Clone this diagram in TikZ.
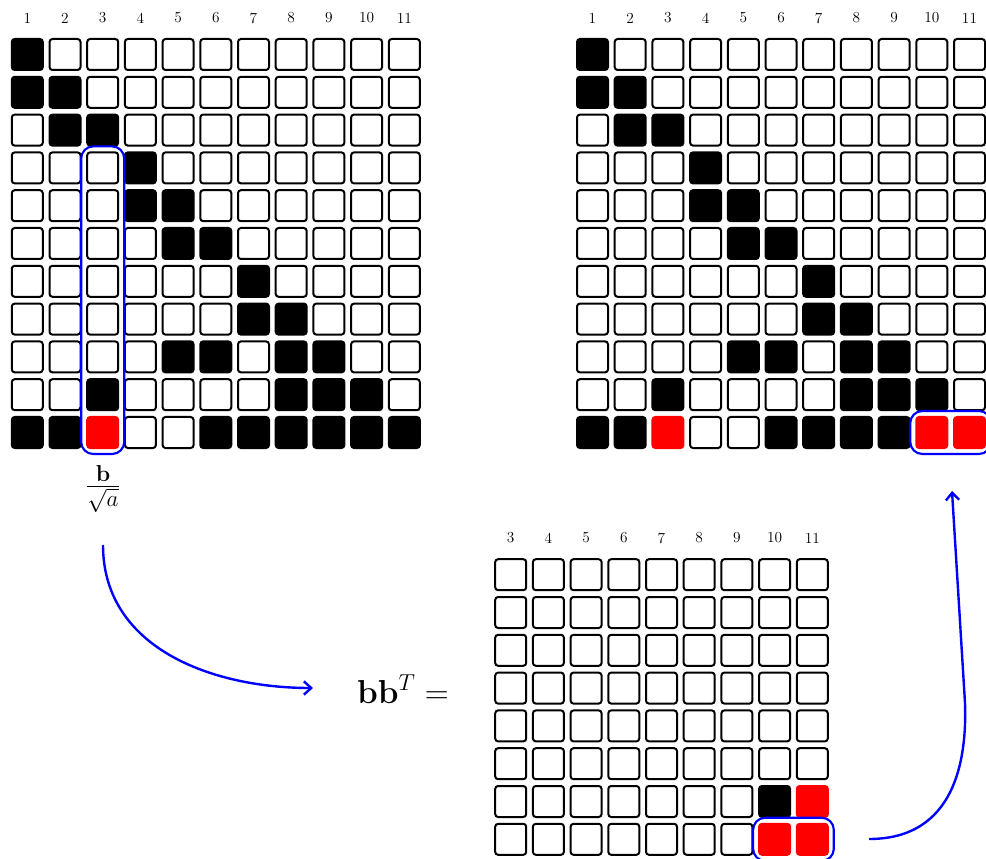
\documentclass[tikz,border=0pt]{standalone}
\usetikzlibrary{arrows.meta,fit}
\begin{document}
\begin{tikzpicture}[x=0.75pt,y=-0.75pt,
  cell/.style={rectangle, minimum size=23.25pt, inner sep=0pt, rounded corners=2.2pt, line width=1.5pt},
  cellw/.style={cell, draw=black, fill=white},
  cellk/.style={cell, draw=black, fill=black},
  cellr/.style={cell, draw=red, fill=red},
  collabel/.style={font=\fontsize{11.5}{13}\selectfont, inner sep=0pt},
  hilite/.style={draw=blue, line width=1.6pt, rounded corners=9pt, inner sep=3.75pt},
  flow/.style={draw=blue, line width=1.8pt, -{Straight Barb[length=5.5pt,width=10pt]}}]
\useasboundingbox (0,0) rectangle (986,859);
% left grid
\foreach \row [count=\r] in {
  {k,w,w,w,w,w,w,w,w,w,w},
  {k,k,w,w,w,w,w,w,w,w,w},
  {w,k,k,w,w,w,w,w,w,w,w},
  {w,w,w,k,w,w,w,w,w,w,w},
  {w,w,w,k,k,w,w,w,w,w,w},
  {w,w,w,w,k,k,w,w,w,w,w},
  {w,w,w,w,w,w,k,w,w,w,w},
  {w,w,w,w,w,w,k,k,w,w,w},
  {w,w,w,w,k,k,w,k,k,w,w},
  {w,w,k,w,w,w,w,k,k,k,w},
  {k,k,r,w,w,k,k,k,k,k,k}}{
  \foreach \v [count=\c] in \row {
    \node[cell\v] (L-\r-\c) at ({27.3+(\c-1)*37.7},{54.5+(\r-1)*37.8}) {};
  }
}
% right grid
\foreach \row [count=\r] in {
  {k,w,w,w,w,w,w,w,w,w,w},
  {k,k,w,w,w,w,w,w,w,w,w},
  {w,k,k,w,w,w,w,w,w,w,w},
  {w,w,w,k,w,w,w,w,w,w,w},
  {w,w,w,k,k,w,w,w,w,w,w},
  {w,w,w,w,k,k,w,w,w,w,w},
  {w,w,w,w,w,w,k,w,w,w,w},
  {w,w,w,w,w,w,k,k,w,w,w},
  {w,w,w,w,k,k,w,k,k,w,w},
  {w,w,k,w,w,w,w,k,k,k,w},
  {k,k,r,w,w,k,k,k,k,r,r}}{
  \foreach \v [count=\c] in \row {
    \node[cell\v] (R-\r-\c) at ({592.5+(\c-1)*37.7},{54.5+(\r-1)*37.8}) {};
  }
}
% bottom grid (columns 3..11)
\foreach \row [count=\r] in {
  {w,w,w,w,w,w,w,w,w},
  {w,w,w,w,w,w,w,w,w},
  {w,w,w,w,w,w,w,w,w},
  {w,w,w,w,w,w,w,w,w},
  {w,w,w,w,w,w,w,w,w},
  {w,w,w,w,w,w,w,w,w},
  {w,w,w,w,w,w,w,k,r},
  {w,w,w,w,w,w,w,r,r}}{
  \foreach \v [count=\i] in \row {
    \pgfmathtruncatemacro{\c}{\i+2}
    \node[cell\v] (B-\r-\c) at ({510.7+(\i-1)*37.7},{574.7+(\r-1)*37.8}) {};
  }
}
% column labels
\foreach \c in {1,...,11} {
  \node[collabel] (LL-\c) at ({27.3+(\c-1)*37.7},18) {\c};
  \node[collabel] (RL-\c) at ({592.5+(\c-1)*37.7},18) {\c};
}
\foreach \c [count=\i] in {3,...,11} {
  \node[collabel] (BL-\c) at ({510.7+(\i-1)*37.7},538) {\c};
}
% highlights
\node[hilite, fit=(L-4-3)(L-11-3)] (hl1) {};
\node[hilite, fit=(R-11-10)(R-11-11)] (hl2) {};
\node[hilite, fit=(B-8-10)(B-8-11)] (hl3) {};
% labels
\node[inner sep=0pt, font=\fontsize{26}{30}\selectfont] (frac) at (103,489) {$\frac{\mathbf{b}}{\sqrt{a}}$};
\node[inner sep=0pt, anchor=base, font=\fontsize{25}{30}\selectfont] (bbt) at (403,703) {$\mathbf{b}\mathbf{b}^T =$};
% arrows
\coordinate (a1s) at (103,545);
\coordinate (a1e) at (313,688);
\draw[flow] (a1s) .. controls (103,648) and (212,688) .. (a1e);
\coordinate (a2s) at (869,839);
\coordinate (a2m) at (965,703);
\coordinate (a2e) at (952,491);
\draw[flow] (a2s) .. controls (955,839) and (967,760) .. (a2m) -- (a2e);
\end{tikzpicture}
\end{document}
